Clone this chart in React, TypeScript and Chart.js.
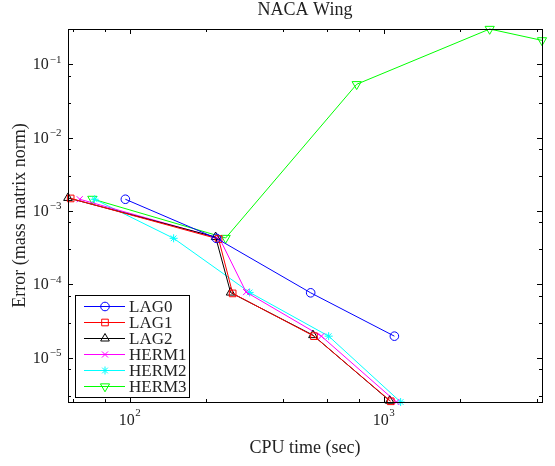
import React, { useEffect, useRef } from 'react';
import { Chart, registerables } from 'chart.js';
import { drawPoint } from 'chart.js/helpers';

Chart.register(...registerables);

// ---------- data ----------
const chartTitle = 'NACA Wing';
const xTitle = 'CPU time (sec)';
const yTitle = 'Error (mass matrix norm)';
const seriesNames = ['LAG0', 'LAG1', 'LAG2', 'HERM1', 'HERM2', 'HERM3'];

const lag0X = [96.2, 219.5, 516, 1102];
const lag0Y = [1.444e-3, 4.24e-4, 7.66e-5, 1.966e-5];
const lag1X = [58.6, 224, 254.4, 531.6, 1066];
const lag1Y = [1.481e-3, 4.147e-4, 7.52e-5, 1.966e-5, 2.547e-6];
const lag2X = [57.2, 218, 249.8, 526.8, 1056];
const lag2Y = [1.505e-3, 4.41e-4, 7.72e-5, 2.03e-5, 2.59e-6];
const herm1X = [63.6, 226.1, 287.4, 568.5, 1122];
const herm1Y = [1.444e-3, 4.21e-4, 7.84e-5, 1.966e-5, 2.49e-6];
const herm2X = [72.8, 149, 296.8, 607.4, 1166];
const herm2Y = [1.444e-3, 4.24e-4, 7.76e-5, 1.966e-5, 2.49e-6];
const herm3X = [71.3, 238.8, 783, 2614, 4200];
const herm3Y = [1.458e-3, 4.28e-4, 0.0533, 0.302, 0.2113];

const allX = [lag0X, lag1X, lag2X, herm1X, herm2X, herm3X];
const allY = [lag0Y, lag1Y, lag2Y, herm1Y, herm2Y, herm3Y];

// ---------- styles ----------
const seriesColors = ['#0000ff', '#ff0000', '#000000', '#ff00ff', '#00ffff', '#00ff00'];
const seriesMarkers = ['circle', 'rect', 'triangle', 'crossRot', 'star', 'triangle'];
const markerRotation = [0, 0, 0, 0, 0, 180];
const markerRadius = [4.3, 4.7, 5, 4.3, 4, 5.3];

const SERIF = '"Liberation Serif", "Times New Roman", serif';

function niceTicks(scale: any) {
  const out: { value: number; major: boolean; exp: number }[] = [];
  for (const t of scale.ticks || []) {
    const v = t.value;
    if (!(v > 0)) continue;
    const e = Math.floor(Math.log10(v) + 1e-9);
    const m = v / Math.pow(10, e);
    const r = Math.round(m);
    if (Math.abs(m - r) > 1e-6 || r < 1 || r > 9) continue;
    if (v < scale.min * 0.999999 || v > scale.max * 1.000001) continue;
    out.push({ value: v, major: r === 1, exp: e });
  }
  return out;
}

function expText(e: number) {
  return e < 0 ? '\u2212' + Math.abs(e) : String(e);
}

const matlabPlugin = {
  id: 'matlabAxes',
  afterDatasetsDraw(chart: any) {
    const ctx = chart.ctx as CanvasRenderingContext2D;
    const { left, right, top, bottom } = chart.chartArea;
    const xs = chart.scales.x;
    const ys = chart.scales.y;
    ctx.save();
    ctx.strokeStyle = '#000';
    ctx.lineWidth = 1;
    // box
    ctx.strokeRect(Math.round(left) + 0.5, Math.round(top) + 0.5, Math.round(right - left), Math.round(bottom - top));
    // ticks
    ctx.beginPath();
    for (const t of niceTicks(xs)) {
      const px = Math.round(xs.getPixelForValue(t.value)) + 0.5;
      const len = t.major ? 5 : 3;
      ctx.moveTo(px, bottom);
      ctx.lineTo(px, bottom - len);
      ctx.moveTo(px, top);
      ctx.lineTo(px, top + len);
    }
    for (const t of niceTicks(ys)) {
      const py = Math.round(ys.getPixelForValue(t.value)) + 0.5;
      const len = t.major ? 5 : 3;
      ctx.moveTo(left, py);
      ctx.lineTo(left + len, py);
      ctx.moveTo(right, py);
      ctx.lineTo(right - len, py);
    }
    ctx.stroke();

    // tick labels
    ctx.fillStyle = '#222';
    ctx.textBaseline = 'alphabetic';
    const baseFont = `16px ${SERIF}`;
    const supFont = `11px ${SERIF}`;
    for (const t of niceTicks(xs)) {
      if (!t.major) continue;
      const px = xs.getPixelForValue(t.value);
      ctx.font = baseFont;
      const w1 = ctx.measureText('10').width;
      ctx.font = supFont;
      const sup = expText(t.exp);
      const w2 = ctx.measureText(sup).width;
      const x0 = px - (w1 + w2 + 0.5) / 2;
      ctx.textAlign = 'left';
      ctx.font = baseFont;
      ctx.fillText('10', x0, bottom + 22.5);
      ctx.font = supFont;
      ctx.fillText(sup, x0 + w1 + 0.5, bottom + 14);
    }
    for (const t of niceTicks(ys)) {
      if (!t.major) continue;
      const py = ys.getPixelForValue(t.value);
      const sup = expText(t.exp);
      ctx.font = supFont;
      const w2 = ctx.measureText(sup).width;
      ctx.textAlign = 'right';
      ctx.fillText(sup, left - 6.5, py - 1.5);
      ctx.font = baseFont;
      ctx.fillText('10', left - 6.5 - w2 - 1, py + 5);
    }

    // titles
    ctx.font = `18px ${SERIF}`;
    ctx.textAlign = 'center';
    ctx.fillText(chartTitle, (left + right) / 2, 15);
    ctx.fillText(xTitle, (left + right) / 2, 453);
    ctx.save();
    ctx.translate(24.5, (top + bottom) / 2);
    ctx.rotate(-Math.PI / 2);
    ctx.fillText(yTitle, 0, 0);
    ctx.restore();

    // legend
    const bx = 75.5, by = 295.5, bw = 114, bh = 102;
    ctx.fillStyle = '#fff';
    ctx.fillRect(bx, by, bw, bh);
    ctx.strokeStyle = '#000';
    ctx.strokeRect(bx, by, bw, bh);
    chart.data.datasets.forEach((ds: any, i: number) => {
      const ry = 306 + i * 16;
      ctx.strokeStyle = ds.borderColor;
      ctx.lineWidth = 1;
      ctx.beginPath();
      ctx.moveTo(84, ry + 0.5);
      ctx.lineTo(125, ry + 0.5);
      ctx.stroke();
      ctx.fillStyle = 'rgba(0,0,0,0)';
      drawPoint(ctx, {
        pointStyle: ds.pointStyle,
        rotation: ds.pointRotation,
        radius: ds.pointRadius,
        borderWidth: 1,
      } as any, 105, ry + 0.5);
      ctx.fillStyle = '#222';
      ctx.font = `17px ${SERIF}`;
      ctx.textAlign = 'left';
      ctx.fillText(ds.label, 129, ry + 5.5);
    });
    ctx.restore();
  },
};

export default function App() {
  const canvasRef = useRef<HTMLCanvasElement | null>(null);

  useEffect(() => {
    if (!canvasRef.current) return;
    const xMin = Math.min(...allX.flat());
    const xMax = Math.max(...allX.flat());
    const yMin = Math.min(...allY.flat());
    const yMax = Math.max(...allY.flat());
    const datasets = seriesNames.map((name, i) => ({
      label: name,
      data: allX[i].map((x, j) => ({ x, y: allY[i][j] })),
      showLine: true,
      borderColor: seriesColors[i],
      backgroundColor: 'rgba(0,0,0,0)',
      borderWidth: 1,
      pointStyle: seriesMarkers[i],
      pointRotation: markerRotation[i],
      pointRadius: markerRadius[i],
      pointBorderWidth: 1,
      pointBorderColor: seriesColors[i],
      pointBackgroundColor: 'rgba(0,0,0,0)',
      tension: 0,
      clip: false as any,
    }));
    const chart = new Chart(canvasRef.current, {
      type: 'scatter',
      data: { datasets: datasets as any },
      options: {
        responsive: false,
        animation: false,
        devicePixelRatio: 1,
        events: [],
        layout: { padding: { left: 68, right: 13, top: 29, bottom: 64 } },
        scales: {
          x: { type: 'logarithmic', min: xMin, max: xMax, display: false },
          y: { type: 'logarithmic', min: yMin, max: yMax, display: false },
        },
        plugins: {
          legend: { display: false },
          title: { display: false },
          tooltip: { enabled: false },
        },
      },
      plugins: [matlabPlugin],
    });
    return () => chart.destroy();
  }, []);

  return (
    <div style={{ position: 'absolute', left: 0, top: 0, width: 555, height: 466, background: '#fff' }}>
      <canvas ref={canvasRef} width={555} height={466} style={{ width: 555, height: 466, display: 'block' }} />
    </div>
  );
}
